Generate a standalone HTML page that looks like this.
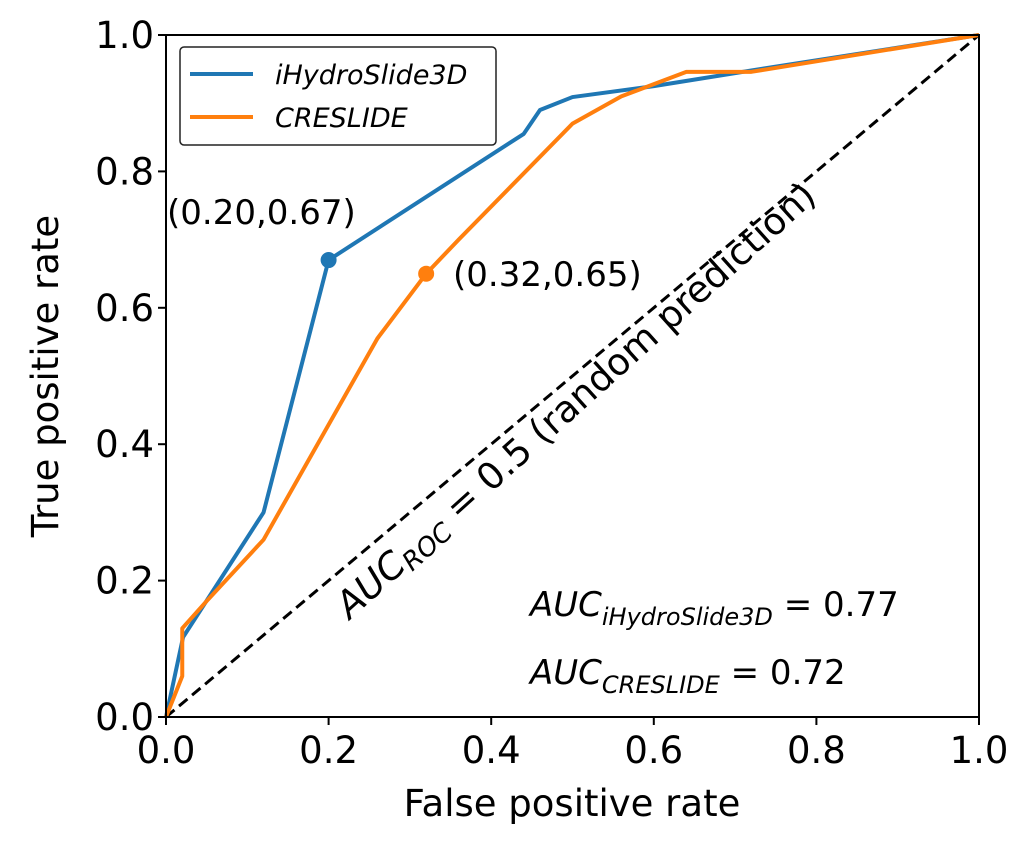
<!DOCTYPE html>
<html><head><meta charset="utf-8"><style>
body{margin:0;background:#fff;}
svg{display:block;font-family:"DejaVu Sans","Liberation Sans",sans-serif;}
</style></head><body>
<svg id="chart" width="1033" height="856" xmlns="http://www.w3.org/2000/svg">
<g id="plot"></g>
<g>
<rect x="180" y="47" width="316" height="98" rx="4" fill="#fff" stroke="#222" stroke-width="1.5"/>
<line x1="190" y1="74" x2="253" y2="74" stroke="#1f77b4" stroke-width="4"/>
<text x="275" y="84" font-size="27" font-style="italic">iHydroSlide3D</text>
<line x1="190" y1="117" x2="253" y2="117" stroke="#ff7f0e" stroke-width="4"/>
<text x="275" y="127" font-size="27" font-style="italic">CRESLIDE</text>
</g>
<text x="167" y="224" font-size="34">(0.20,0.67)</text>
<text x="453" y="286" font-size="34">(0.32,0.65)</text>
<text transform="translate(350,620) rotate(-42)" font-size="37"><tspan font-style="italic">AUC</tspan><tspan font-size="26" dy="6" font-style="italic">ROC</tspan><tspan dy="-6"> = 0.5 (random prediction)</tspan></text>
<text x="530" y="616" font-size="34"><tspan font-style="italic">AUC</tspan><tspan font-size="24" dy="9" font-style="italic">iHydroSlide3D</tspan><tspan dy="-9"> = 0.77</tspan></text>
<text x="530" y="684" font-size="34"><tspan font-style="italic">AUC</tspan><tspan font-size="24" dy="9" font-style="italic">CRESLIDE</tspan><tspan dy="-9"> = 0.72</tspan></text>
<text x="572" y="816" font-size="37" text-anchor="middle">False positive rate</text>
<text transform="translate(58,376) rotate(-90)" font-size="37" text-anchor="middle">True positive rate</text>
</svg>
<script>
const xTicks=[0,0.2,0.4,0.6,0.8,1.0];
const yTicks=[0,0.2,0.4,0.6,0.8,1.0];
const tickLabels=["0.0","0.2","0.4","0.6","0.8","1.0"];
const blueFpr=[0,0.021,0.12,0.20,0.44,0.46,0.50,0.60,0.72,1.0];
const blueTpr=[0,0.117,0.30,0.67,0.855,0.89,0.909,0.925,0.948,1.0];
const orangeFpr=[0,0.02,0.02,0.05,0.12,0.26,0.32,0.36,0.50,0.56,0.64,0.72,1.0];
const orangeTpr=[0,0.06,0.13,0.17,0.26,0.555,0.65,0.70,0.87,0.91,0.946,0.946,1.0];
const bluePoint=[0.20,0.67];
const orangePoint=[0.32,0.65];
const X0=166,X1=979,Y0=717,Y1=35;
const sx=v=>X0+(X1-X0)*v, sy=v=>Y0-(Y0-Y1)*v;
const g=document.getElementById('plot');
const NS='http://www.w3.org/2000/svg';
function mk(tag,attrs,parent){const e=document.createElementNS(NS,tag);for(const k in attrs)e.setAttribute(k,attrs[k]);(parent||g).appendChild(e);return e;}
let d=mk('line',{x1:sx(0),y1:sy(0),x2:sx(1),y2:sy(1),stroke:'#000','stroke-width':3,'stroke-dasharray':'11,6'});


function series(xs,ys,col,name){
 const p=mk('polyline',{points:xs.map((x,i)=>sx(x)+','+sy(ys[i])).join(' '),fill:'none',stroke:col,'stroke-width':4,'stroke-linejoin':'round'});
 
 
}
series(blueFpr,blueTpr,'#1f77b4','ihydroslide3d-curve');
series(orangeFpr,orangeTpr,'#ff7f0e','creslide-curve');
let c1=mk('circle',{cx:sx(bluePoint[0]),cy:sy(bluePoint[1]),r:8,fill:'#1f77b4'});


let c2=mk('circle',{cx:sx(orangePoint[0]),cy:sy(orangePoint[1]),r:8,fill:'#ff7f0e'});


let fr=mk('rect',{x:X0,y:Y1,width:X1-X0,height:Y0-Y1,fill:'none',stroke:'#000','stroke-width':2});


xTicks.forEach((v,i)=>{
 mk('line',{x1:sx(v),y1:Y0,x2:sx(v),y2:Y0+8,stroke:'#000','stroke-width':2});
 const t=mk('text',{x:sx(v),y:Y0+46,'font-size':37,'text-anchor':'middle'});t.textContent=tickLabels[i];
 
 
});
yTicks.forEach((v,i)=>{
 mk('line',{x1:X0-8,y1:sy(v),x2:X0,y2:sy(v),stroke:'#000','stroke-width':2});
 const t=mk('text',{x:X0-12,y:sy(v)+13,'font-size':37,'text-anchor':'end'});t.textContent=tickLabels[i];
 
 
});
</script>
</body></html>
